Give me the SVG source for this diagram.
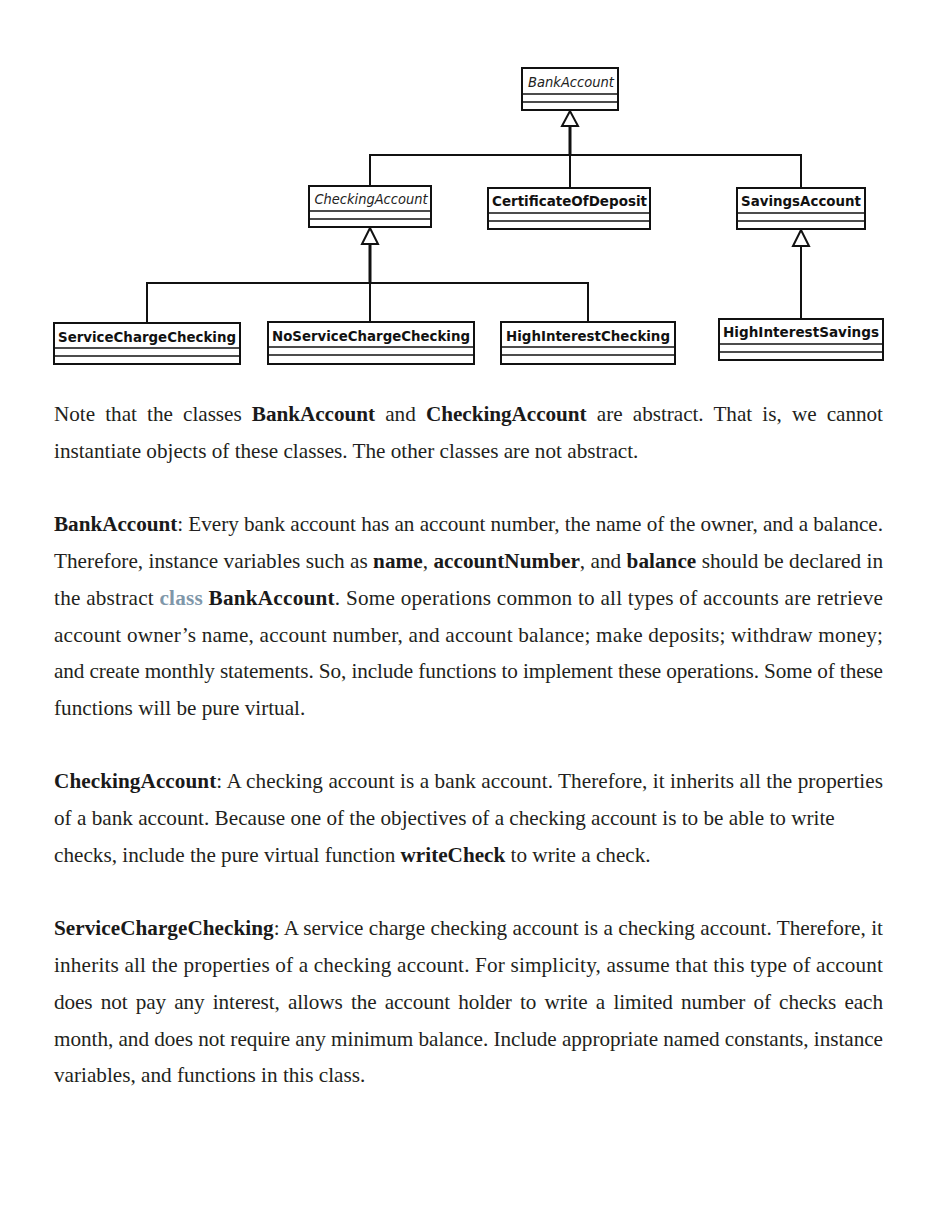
<svg xmlns="http://www.w3.org/2000/svg" width="944" height="1205" viewBox="0 0 944 1205">
<style>
.box{fill:#fff;stroke:#111;stroke-width:2}
.sep{stroke:#111;stroke-width:1.6}
.lbl{font-family:"DejaVu Sans Condensed","DejaVu Sans",Verdana,sans-serif;font-stretch:condensed;font-size:14.5px;font-weight:bold;fill:#111;text-anchor:middle}
.abs{font-family:"DejaVu Sans Condensed","DejaVu Sans",Verdana,sans-serif;font-stretch:condensed;font-size:14px;font-style:italic;fill:#222;text-anchor:middle}
.ln{stroke:#111;stroke-width:2;fill:none}
.thick{stroke:#111;stroke-width:3;fill:none}
.tri{fill:#fff;stroke:#111;stroke-width:2}
.body{font-family:"Liberation Serif","Times New Roman",serif;font-size:21.2px;fill:#231f20}
.b{font-weight:bold;fill:#1a1a1a}
.link{fill:#7f97aa;font-weight:bold}
</style>
<rect width="944" height="1205" fill="#fff"/>
<g id="connectors">
<line class="thick" x1="570" y1="126" x2="570" y2="155"/>
<polyline class="ln" points="370,186 370,155 801,155 801,188"/>
<line class="ln" x1="570" y1="155" x2="570" y2="188"/>
<polygon class="tri" points="570,111 562,126 578,126"/>
<line class="thick" x1="370" y1="244" x2="370" y2="283"/>
<polyline class="ln" points="147,323 147,283 588,283 588,322"/>
<line class="ln" x1="370" y1="283" x2="370" y2="322"/>
<polygon class="tri" points="370,228 362,244 378,244"/>
<line class="ln" x1="801" y1="246" x2="801" y2="319"/>
<polygon class="tri" points="801,230 793,246 809,246"/>
</g>
<g id="BankAccount">
<rect class="box" x="522" y="68" width="96" height="42"/>
<line class="sep" x1="522" y1="94" x2="618" y2="94"/><line class="sep" x1="522" y1="102" x2="618" y2="102"/>
<text class="abs" x="571" y="87" textLength="86" lengthAdjust="spacingAndGlyphs">BankAccount</text>
</g>
<g id="CheckingAccount">
<rect class="box" x="309" y="186" width="122" height="41"/>
<line class="sep" x1="309" y1="211" x2="431" y2="211"/><line class="sep" x1="309" y1="219" x2="431" y2="219"/>
<text class="abs" x="371" y="204" textLength="113" lengthAdjust="spacingAndGlyphs">CheckingAccount</text>
</g>
<g id="CertificateOfDeposit">
<rect class="box" x="488" y="188" width="162" height="41"/>
<line class="sep" x1="488" y1="213" x2="650" y2="213"/><line class="sep" x1="488" y1="221" x2="650" y2="221"/>
<text class="lbl" x="569.5" y="206" textLength="155" lengthAdjust="spacingAndGlyphs">CertificateOfDeposit</text>
</g>
<g id="SavingsAccount">
<rect class="box" x="737" y="188" width="128" height="41"/>
<line class="sep" x1="737" y1="213" x2="865" y2="213"/><line class="sep" x1="737" y1="221" x2="865" y2="221"/>
<text class="lbl" x="801" y="206" textLength="120" lengthAdjust="spacingAndGlyphs">SavingsAccount</text>
</g>
<g id="ServiceChargeChecking">
<rect class="box" x="54" y="323" width="186" height="41"/>
<line class="sep" x1="54" y1="348" x2="240" y2="348"/><line class="sep" x1="54" y1="356" x2="240" y2="356"/>
<text class="lbl" x="147" y="342" textLength="178" lengthAdjust="spacingAndGlyphs">ServiceChargeChecking</text>
</g>
<g id="NoServiceChargeChecking">
<rect class="box" x="268" y="322" width="206" height="42"/>
<line class="sep" x1="268" y1="347" x2="474" y2="347"/><line class="sep" x1="268" y1="355" x2="474" y2="355"/>
<text class="lbl" x="371" y="341" textLength="198" lengthAdjust="spacingAndGlyphs">NoServiceChargeChecking</text>
</g>
<g id="HighInterestChecking">
<rect class="box" x="501" y="322" width="174" height="42"/>
<line class="sep" x1="501" y1="347" x2="675" y2="347"/><line class="sep" x1="501" y1="355" x2="675" y2="355"/>
<text class="lbl" x="588" y="341" textLength="164" lengthAdjust="spacingAndGlyphs">HighInterestChecking</text>
</g>
<g id="HighInterestSavings">
<rect class="box" x="719" y="319" width="164" height="41"/>
<line class="sep" x1="719" y1="344" x2="883" y2="344"/><line class="sep" x1="719" y1="352" x2="883" y2="352"/>
<text class="lbl" x="801" y="337" textLength="156" lengthAdjust="spacingAndGlyphs">HighInterestSavings</text>
</g>
<g id="text">
<text class="body" x="54" y="421" word-spacing="5" textLength="829" lengthAdjust="spacing">Note that the classes <tspan class="b">BankAccount</tspan> and <tspan class="b">CheckingAccount</tspan> are abstract. That is, we cannot</text>
<text class="body" x="54" y="458">instantiate objects of these classes. The other classes are not abstract.</text>

<text class="body" x="54" y="531" textLength="829" lengthAdjust="spacing"><tspan class="b">BankAccount</tspan>: Every bank account has an account number, the name of the owner, and a balance.</text>
<text class="body" x="54" y="568" textLength="829" lengthAdjust="spacing">Therefore, instance variables such as <tspan class="b">name</tspan>, <tspan class="b">accountNumber</tspan>, and <tspan class="b">balance</tspan> should be declared in</text>
<text class="body" x="54" y="605" textLength="829" lengthAdjust="spacing">the abstract <tspan class="link">class</tspan> <tspan class="b">BankAccount</tspan>. Some operations common to all types of accounts are retrieve</text>
<text class="body" x="54" y="642" textLength="829" lengthAdjust="spacing">account owner’s name, account number, and account balance; make deposits; withdraw money;</text>
<text class="body" x="54" y="678" textLength="829" lengthAdjust="spacing">and create monthly statements. So, include functions to implement these operations. Some of these</text>
<text class="body" x="54" y="715">functions will be pure virtual.</text>

<text class="body" x="54" y="788" textLength="829" lengthAdjust="spacing"><tspan class="b">CheckingAccount</tspan>: A checking account is a bank account. Therefore, it inherits all the properties</text>
<text class="body" x="54" y="825">of a bank account. Because one of the objectives of a checking account is to be able to write</text>
<text class="body" x="54" y="862">checks, include the pure virtual function <tspan class="b">writeCheck</tspan> to write a check.</text>

<text class="body" x="54" y="935" textLength="829" lengthAdjust="spacing"><tspan class="b">ServiceChargeChecking</tspan>: A service charge checking account is a checking account. Therefore, it</text>
<text class="body" x="54" y="972" textLength="829" lengthAdjust="spacing">inherits all the properties of a checking account. For simplicity, assume that this type of account</text>
<text class="body" x="54" y="1009" word-spacing="3" textLength="829" lengthAdjust="spacing">does not pay any interest, allows the account holder to write a limited number of checks each</text>
<text class="body" x="54" y="1046" textLength="829" lengthAdjust="spacing">month, and does not require any minimum balance. Include appropriate named constants, instance</text>
<text class="body" x="54" y="1082">variables, and functions in this class.</text>
</g>
</svg>
